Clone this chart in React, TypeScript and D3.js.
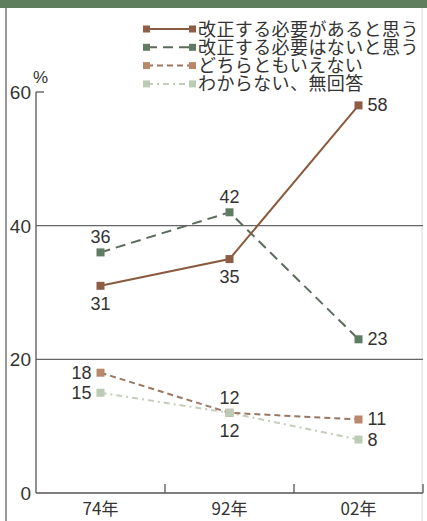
import React from "react";
import * as d3 from "d3";

const categories = ["74年", "92年", "02年"];
const seriesNames = [
  "改正する必要があると思う",
  "改正する必要はないと思う",
  "どちらともいえない",
  "わからない、無回答",
];
const needRevision = [31, 35, 58];
const noNeed = [36, 42, 23];
const neither = [18, 12, 11];
const dontKnow = [15, 12, 8];
const yTicks = [0, 20, 40, 60];

const W = 427;
const H = 521;

type LabelPos = "above" | "below" | "left" | "right";
const series = [
  { name: seriesNames[0], values: needRevision, color: "#8a5a3e", marker: "#8d5e45", dash: "", labels: ["below", "below", "right"] as LabelPos[] },
  { name: seriesNames[1], values: noNeed, color: "#5b6b5c", marker: "#5e7d62", dash: "10,6", labels: ["above", "above", "right"] as LabelPos[] },
  { name: seriesNames[2], values: neither, color: "#9a7663", marker: "#b8876c", dash: "6,4", labels: ["left", "above", "right"] as LabelPos[] },
  { name: seriesNames[3], values: dontKnow, color: "#c3cdb8", marker: "#bccbb3", dash: "6,4,2,4", labels: ["left", "below", "right"] as LabelPos[] },
];

export default function App() {
  const x = d3.scaleBand<string>().domain(categories).range([36, 423]);
  const y = d3.scaleLinear().domain([0, 60]).range([493, 92]);
  const cx = (c: string) => (x(c) as number) + x.bandwidth() / 2;
  const line = d3
    .line<number>()
    .x((_, i) => cx(categories[i]))
    .y((d) => y(d));
  const font = "'Noto Sans CJK JP', 'Noto Sans', sans-serif";
  const numFont = "'Liberation Sans', Arial, sans-serif";
  const ms = 8;

  const labelProps = (pos: LabelPos, px: number, py: number) => {
    switch (pos) {
      case "above":
        return { x: px, y: py - 9, anchor: "middle" };
      case "below":
        return { x: px, y: py + 24, anchor: "middle" };
      case "left":
        return { x: px - 9, y: py + 6, anchor: "end" };
      default:
        return { x: px + 9, y: py + 6, anchor: "start" };
    }
  };

  return (
    <svg width={W} height={H} style={{ position: "absolute", left: 0, top: 0, background: "#fff" }}>
      <rect x={0} y={0} width={W} height={8} fill="#5f7e5e" />
      <line x1={6} x2={6} y1={8} y2={H} stroke="#777" strokeWidth={1.5} />
      <line x1={422} x2={422} y1={8} y2={H} stroke="#d8d8d8" strokeWidth={1} />
      {/* legend */}
      {series.map((s, i) => {
        const ly = 29 + i * 18.3;
        return (
          <g key={s.name}>
            <line x1={147} x2={192} y1={ly} y2={ly} stroke={s.color} strokeWidth={2} strokeDasharray={s.dash} />
            <rect x={143} y={ly - 3.5} width={7} height={7} fill={s.marker} />
            <rect x={189} y={ly - 3.5} width={7} height={7} fill={s.marker} />
            <text x={198} y={ly + 6.5} fontSize={18} letterSpacing={0.4} fontFamily={font} fill="#333">
              {s.name}
            </text>
          </g>
        );
      })}
      {/* y axis */}
      <line x1={36} x2={36} y1={y(60)} y2={y(0)} stroke="#555" strokeWidth={1.3} />
      <line x1={36} x2={44} y1={y(60)} y2={y(60)} stroke="#555" strokeWidth={1.3} />
      {[20, 40].map((t) => (
        <line key={t} x1={36} x2={423} y1={y(t)} y2={y(t)} stroke="#666" strokeWidth={1.2} />
      ))}
      <line x1={36} x2={423} y1={y(0)} y2={y(0)} stroke="#555" strokeWidth={1.3} />
      {categories.map((c) => (
        <line key={c} x1={(x(c) as number) + x.bandwidth()} x2={(x(c) as number) + x.bandwidth()} y1={y(0)} y2={y(0) - 9} stroke="#555" strokeWidth={1.3} />
      ))}
      {yTicks.map((t) => (
        <text key={t} x={31} y={y(t) + 7} textAnchor="end" fontSize={19} fontFamily={numFont} fill="#333">
          {t}
        </text>
      ))}
      <text x={33} y={83} fontSize={17} fontFamily={numFont} fill="#333">%</text>
      {categories.map((c) => (
        <text key={c} x={cx(c)} y={515} textAnchor="middle" fontSize={17} fontFamily={font} fill="#333">
          {c}
        </text>
      ))}
      {/* series lines */}
      {[...series].reverse().map((s) => (
        <path key={s.name} d={line(s.values) as string} fill="none" stroke={s.color} strokeWidth={2} strokeDasharray={s.dash} />
      ))}
      {series.map((s) =>
        s.values.map((v, i) => {
          const px = cx(categories[i]);
          const py = y(v);
          const lp = labelProps(s.labels[i], px, py);
          return (
            <g key={s.name + i}>
              <rect x={px - ms / 2} y={py - ms / 2} width={ms} height={ms} fill={s.marker} />
              <text x={lp.x} y={lp.y} textAnchor={lp.anchor as any} fontSize={18} fontFamily={numFont} fill="#333">
                {v}
              </text>
            </g>
          );
        })
      )}
    </svg>
  );
}
